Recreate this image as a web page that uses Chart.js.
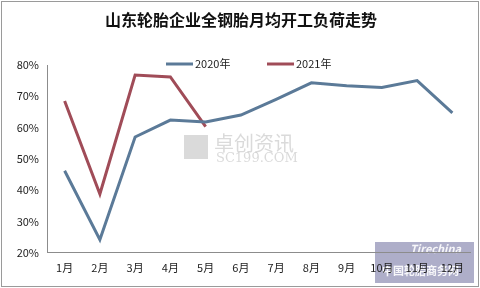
<!DOCTYPE html>
<html>
<head>
<meta charset="utf-8">
<script src="https://cdn.jsdelivr.net/npm/chart.js@4/dist/chart.umd.min.js"></script>
<style>
  html, body { margin: 0; padding: 0; background: #fff; }
  #wrap { position: relative; width: 480px; height: 288px; }
  #frame { position: absolute; left: 1px; top: 1px; width: 476px; height: 284px; border: 1px solid #9a9a9a; pointer-events: none; }
</style>
</head>
<body>
<div id="wrap">
  <canvas id="myChart" width="480" height="288"></canvas>
  <div id="frame"></div>
</div>
<script>
// data
const months = ['1月', '2月', '3月', '4月', '5月', '6月', '7月', '8月', '9月', '10月', '11月', '12月'];
const load2020 = [46.2, 24.2, 57.0, 62.4, 61.8, 64.0, 69.0, 74.3, 73.4, 72.8, 75.0, 64.7];
const load2021 = [68.5, 38.8, 76.8, 76.2, 60.3];
const seriesNames = ['2020年', '2021年'];
const chartTitle = '山东轮胎企业全钢胎月均开工负荷走势';

const blue = '#5b7a98';
const red = '#a04c58';
const font = '"Noto Sans CJK SC", "Noto Sans", sans-serif';

// title, legend and watermarks drawn by hand so they sit where the original has them
const decor = {
    id: 'decor',
    beforeDraw(chart) {
        const c = chart.ctx;
        c.save();
        // tirechina badge in the corner, under the axis labels
        c.fillStyle = 'rgba(120,120,165,0.6)';
        c.fillRect(375, 242, 99, 41);
        c.fillStyle = 'rgba(255,255,255,0.9)';
        c.font = 'italic bold 11px ' + font;
        c.fillText('Tirechina', 410, 253);
        c.font = 'bold 11px ' + font;
        c.fillText('中国轮胎商务网', 382, 275);
        c.restore();
    },
    beforeDatasetsDraw(chart) {
        const c = chart.ctx;
        c.save();
        c.fillStyle = 'rgba(150,150,150,0.35)';
        c.font = '20px ' + font;
        c.textBaseline = 'middle';
        c.fillText('卓创资讯', 214, 143);
        c.font = '13px "DejaVu Serif", serif';
        c.fillText('SC199.COM', 216, 159);
        c.fillRect(184, 135, 24, 24);
        c.restore();
    },
    afterDraw(chart) {
        const c = chart.ctx;
        c.save();
        c.fillStyle = '#111';
        c.font = 'bold 16px ' + font;
        c.textAlign = 'center';
        c.textBaseline = 'middle';
        c.fillText(chartTitle, 241, 20);

        const items = [[166, blue, seriesNames[0]], [267, red, seriesNames[1]]];
        c.font = '11px ' + font;
        c.textAlign = 'left';
        items.forEach(([x, col, txt]) => {
            c.strokeStyle = col;
            c.lineWidth = 3;
            c.beginPath();
            c.moveTo(x, 64);
            c.lineTo(x + 27, 64);
            c.stroke();
            c.fillStyle = '#222';
            c.fillText(txt, x + 29, 64);
        });
        c.restore();
    }
};

const ctx = document.getElementById('myChart').getContext('2d');
new Chart(ctx, {
    type: 'line',
    data: {
        labels: months,
        datasets: [
            { label: seriesNames[0], data: load2020, borderColor: blue, backgroundColor: blue, borderWidth: 3, pointRadius: 0, tension: 0 },
            { label: seriesNames[1], data: load2021, borderColor: red, backgroundColor: red, borderWidth: 3, pointRadius: 0, tension: 0 }
        ]
    },
    options: {
        responsive: false,
        animation: false,
        layout: { padding: { top: 65, right: 10, bottom: 6, left: 0 } },
        plugins: {
            legend: { display: false },
            title: { display: false },
            tooltip: { enabled: false }
        },
        scales: {
            x: {
                offset: true,
                grid: { display: false, drawTicks: false },
                border: { color: '#8c8c8c', width: 1 },
                ticks: { color: '#222', font: { size: 11, family: font }, padding: 8, maxRotation: 0, autoSkip: false }
            },
            y: {
                min: 20,
                max: 80,
                afterFit: s => { s.width = 47; },
                grid: { display: false, drawTicks: false },
                border: { color: '#8c8c8c', width: 1 },
                ticks: { stepSize: 10, color: '#222', font: { size: 11, family: font }, padding: 8, callback: v => v + '%' }
            }
        }
    },
    plugins: [decor]
});
</script>
</body>
</html>
